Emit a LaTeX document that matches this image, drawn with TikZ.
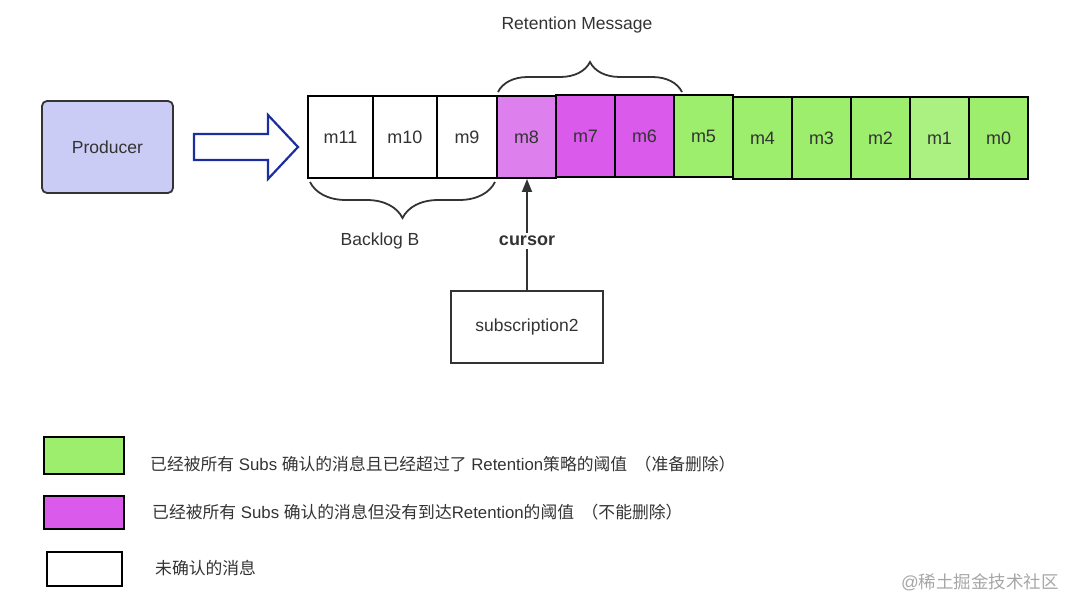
\documentclass[tikz,border=0pt]{standalone}
\usepackage{fontspec}
\setmainfont{Liberation Sans}
\newfontfamily\cjk{Noto Sans CJK SC}
\usetikzlibrary{decorations.pathreplacing,arrows.meta}
\definecolor{txt}{HTML}{333333}
\definecolor{cellgreen}{HTML}{9CEE6C}
\definecolor{cellpurple}{HTML}{D95AEB}
\definecolor{cellpurplelt}{HTML}{DE7FEE}
\definecolor{prodfill}{HTML}{CBCCF6}
\definecolor{arrowblue}{HTML}{1B2E9E}
\tikzset{
  cell/.style={draw=black, line width=2pt, minimum width=59pt, minimum height=82pt, inner sep=0pt, text=txt, font=\fontsize{18}{20}\selectfont},
  legbox/.style={draw=black, line width=2pt, inner sep=0pt},
  legtext/.style={anchor=west, text=txt, font=\fontsize{16.8}{19}\selectfont, inner sep=0pt},
  label/.style={text=txt, font=\fontsize{17.5}{20}\selectfont},
  bracestyle/.style={draw=txt, line width=1.8pt, decorate},
}
\begin{document}
\begin{tikzpicture}[x=1pt,y=-1pt]
\useasboundingbox (0,0) rectangle (1080,612);
% Producer
\node[draw=txt, line width=1.8pt, rounded corners=5pt, fill=prodfill, minimum width=131pt, minimum height=92pt, label] (prod) at (107.5,147) {Producer};
% block arrow
\draw[arrowblue, line width=2.2pt, line join=miter] (194,134) -- (268,134) -- (268,115) -- (298,147) -- (268,179) -- (268,160) -- (194,160) -- cycle;
% cells
\node[cell, fill=white, minimum width=65pt] (m11) at (340.5,137) {m11};
\node[cell, fill=white, minimum width=64pt] (m10) at (405,137) {m10};
\node[cell, fill=white, minimum width=60pt] (m9) at (467,137) {m9};
\node[cell, fill=cellpurplelt] (m8) at (526.5,137) {m8};
\node[cell, fill=cellpurple] (m7) at (585.5,136) {m7};
\node[cell, fill=cellpurple] (m6) at (644.5,136) {m6};
\node[cell, fill=cellgreen] (m5) at (703.5,136) {m5};
\node[cell, fill=cellgreen] (m4) at (762.5,138) {m4};
\node[cell, fill=cellgreen] (m3) at (821.5,138) {m3};
\node[cell, fill=cellgreen] (m2) at (880.5,138) {m2};
\node[cell, fill=cellgreen!85!white] (m1) at (939.5,138) {m1};
\node[cell, fill=cellgreen] (m0) at (998.5,138) {m0};
% Retention brace
\draw[bracestyle, decoration={brace, amplitude=30pt}] (498,92) -- (682,92);
\node[label] (ret) at (577,25) {Retention Message};
% Backlog brace
\draw[bracestyle, decoration={brace, amplitude=36pt, mirror}] (310,182) -- (495,182);
\node[label] (back) at (380,241) {Backlog B};
% subscription
\node[draw=txt, line width=1.8pt, minimum width=152pt, minimum height=72pt, label] (sub) at (527,327) {subscription2};
\node[text=txt, font=\fontsize{18}{20}\bfseries] (cur) at (527,241) {cursor};
\draw[txt, line width=1.8pt] (sub.north) -- (cur.south);
\draw[txt, line width=1.8pt, -{Triangle[length=13pt,width=10pt]}] (cur.north) -- (527,179);
% legend
\node[legbox, fill=cellgreen, minimum width=80pt, minimum height=37pt] (lg) at (84,455.5) {};
\node[legtext] (lgt) at (150,464) {{\cjk 已经被所有} Subs {\cjk 确认的消息且已经超过了} Retention{\cjk 策略的阈值 \ （准备删除）}};
\node[legbox, fill=cellpurple, minimum width=80pt, minimum height=33pt] (lp) at (84,512.5) {};
\node[legtext] (lpt) at (152,512) {{\cjk 已经被所有} Subs {\cjk 确认的消息但没有到达}Retention{\cjk 的阈值 \ （不能删除）}};
\node[legbox, fill=white, minimum width=75pt, minimum height=34pt] (lw) at (84.5,569) {};
\node[legtext] (lwt) at (155,568) {\cjk 未确认的消息};
% watermark
\node[text=black!35, font=\fontsize{17.5}{20}\selectfont, anchor=west, inner sep=0pt] (wm) at (901,582) {@{\cjk 稀土掘金技术社区}};
\end{tikzpicture}
\end{document}
